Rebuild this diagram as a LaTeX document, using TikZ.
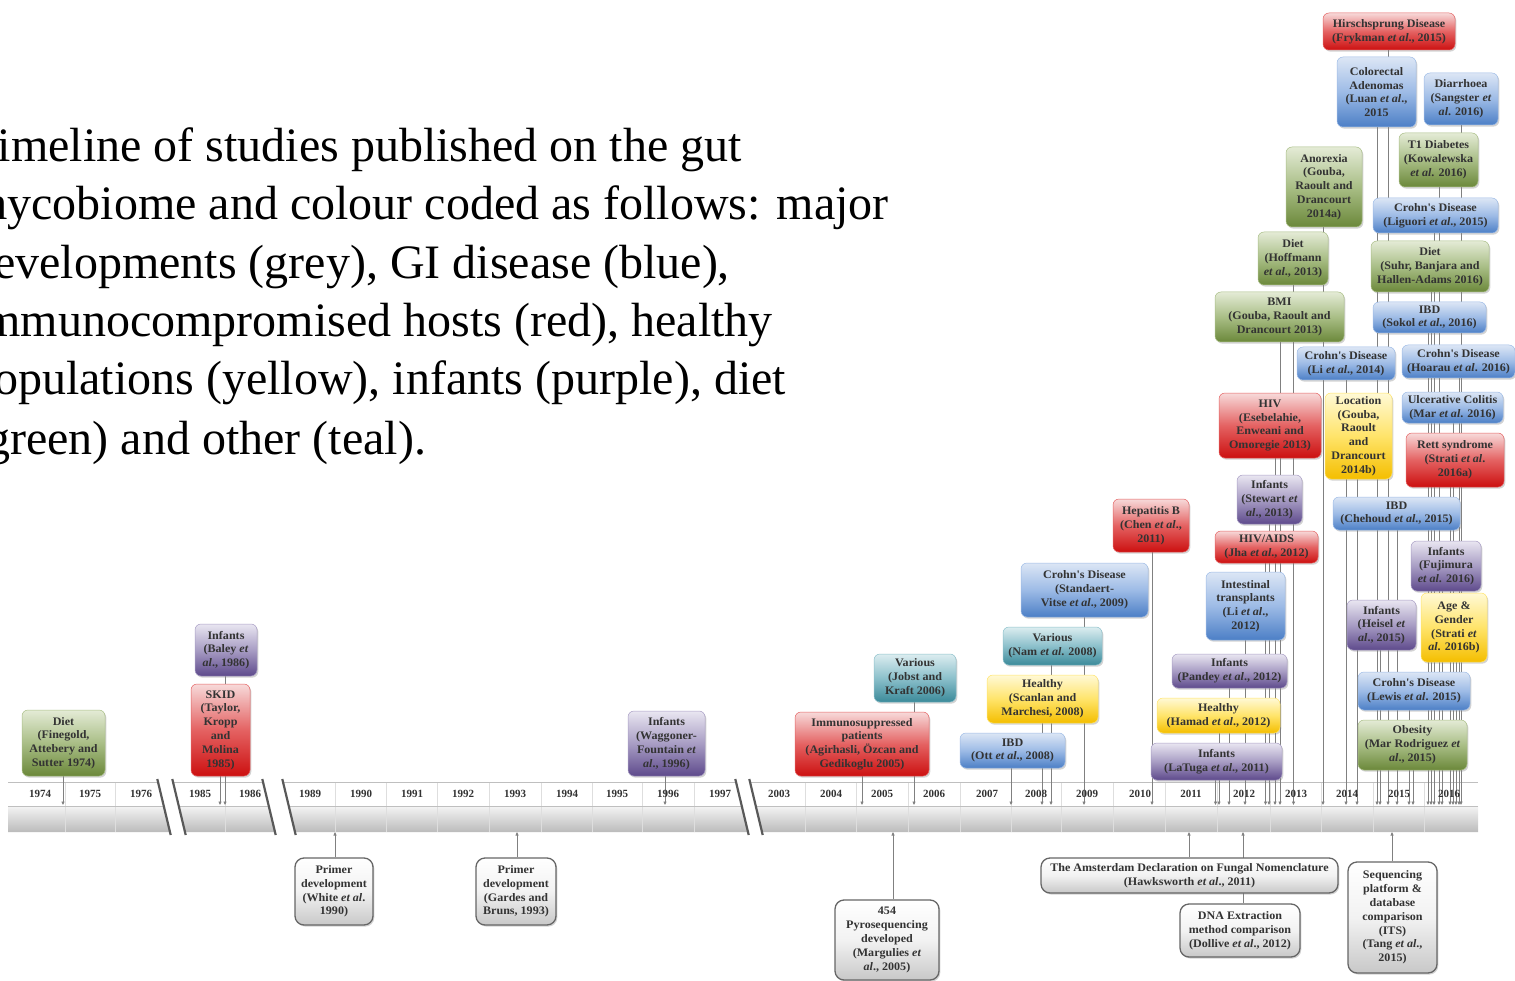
\documentclass[tikz,border=0pt]{standalone}
\usepackage{fontspec}
\usetikzlibrary{arrows.meta,shadows}
\newfontfamily\boxfont[FakeStretch=1.05]{Liberation Serif}
\newfontfamily\titlefont{Liberation Serif}
\newfontfamily\yearfont{Liberation Serif}
\definecolor{txt}{HTML}{333333}
\definecolor{grnT}{HTML}{E4EBD6}\definecolor{grnM}{HTML}{A9BE86}\definecolor{grnD}{HTML}{6B883A}
\definecolor{redT}{HTML}{F7DADA}\definecolor{redM}{HTML}{E46262}\definecolor{redD}{HTML}{CC1010}
\definecolor{purT}{HTML}{E9E6F1}\definecolor{purM}{HTML}{A89DC4}\definecolor{purD}{HTML}{5E4A8C}
\definecolor{bluT}{HTML}{DCE6F5}\definecolor{bluM}{HTML}{9DBBE6}\definecolor{bluD}{HTML}{4C7FC6}
\definecolor{tealT}{HTML}{DCEDF0}\definecolor{tealM}{HTML}{8CC0CB}\definecolor{tealD}{HTML}{3B8A9A}
\definecolor{yelT}{HTML}{FFF9D6}\definecolor{yelM}{HTML}{FFE46A}\definecolor{yelD}{HTML}{F4BE00}
\definecolor{gryT}{HTML}{FFFFFF}\definecolor{gryM}{HTML}{F2F2F2}\definecolor{gryD}{HTML}{C8C8C8}
\definecolor{lineC}{HTML}{808080}
\definecolor{bandT}{HTML}{F4F4F4}\definecolor{bandD}{HTML}{BBBBBB}
\pgfdeclarelayer{axislayer}
\pgfdeclarelayer{linelayer}
\pgfsetlayers{axislayer,linelayer,main}
\tikzset{
  bx/.style={rounded corners=6pt, align=center, inner sep=1pt, text=txt,
    font=\boxfont\bfseries\fontsize{11.5}{13.8}\selectfont, line width=0.5pt,
    drop shadow={shadow xshift=1.3pt, shadow yshift=-1.6pt, opacity=0.35}},
  gbox/.style={bx, draw=grnM, top color=grnT, bottom color=grnD, middle color=grnM},
  rbox/.style={bx, draw=redM, top color=redT, bottom color=redD, middle color=redM},
  pbox/.style={bx, draw=purM, top color=purT, bottom color=purD, middle color=purM},
  bbox/.style={bx, draw=bluM, top color=bluT, bottom color=bluD, middle color=bluM},
  tbox/.style={bx, draw=tealM, top color=tealT, bottom color=tealD, middle color=tealM},
  ybox/.style={bx, draw=yelM, top color=yelT, bottom color=yelD, middle color=yelM},
  wbox/.style={bx, rounded corners=9pt, draw=black!60, line width=1.3pt, top color=gryT, bottom color=gryD, middle color=gryM},
  conn/.style={draw=lineC, line width=0.65pt, -{Triangle[length=3.5pt,width=3pt]}},
  yr/.style={font=\yearfont\bfseries\fontsize{11}{12}\selectfont, text=txt, inner sep=0pt},
  ttl/.style={font=\titlefont\fontsize{48}{58}\selectfont, anchor=base west, inner sep=0pt},
  sepl/.style={draw=black!13, line width=0.6pt},
  rowl/.style={draw=black!25, line width=0.6pt},
  slash/.style={draw=black!65, line width=2.2pt},
  band/.style={top color=bandT, bottom color=bandD}
}
\begin{document}
\begin{tikzpicture}[x=1pt,y=-1pt]
\useasboundingbox (0,0) rectangle (1515,981);

% ---------- title ----------
\node[ttl] (t1) at (-30,162) {Timeline of studies published on the gut};
\node[ttl] (t2) at (-30,220) {mycobiome and colour coded as follows: major};
\node[ttl] (t3) at (-30,279) {developments (grey), GI disease (blue),};
\node[ttl] (t4) at (-30,337) {immunocompromised hosts (red), healthy};
\node[ttl] (t5) at (-30,395) {populations (yellow), infants (purple), diet};
\node[ttl] (t6) at (-30,454) {(green) and other (teal).};

% ---------- axis ----------
\begin{pgfonlayer}{axislayer}
% segment 1
\fill[white] (8,782) -- (158,782) -- (163.76,806) -- (8,806) -- cycle;
\path[band] (8,806) -- (163.76,806) -- (170,832) -- (8,832) -- cycle;
\foreach \s in {65,115} \draw[sepl] (\s,782) -- (\s,832);
\draw[rowl] (8,782) -- (158,782) (8,806) -- (163.76,806);
\draw[slash] (157.3,779) -- (170.7,835);
% segment 2
\fill[white] (173,782) -- (263,782) -- (268.76,806) -- (178.76,806) -- cycle;
\path[band] (178.76,806) -- (268.76,806) -- (275,832) -- (185,832) -- cycle;
\draw[sepl] (225,782) -- (225,832);
\draw[rowl] (173,782) -- (263,782) (178.76,806) -- (268.76,806);
\draw[slash] (172.3,779) -- (185.7,835);
\draw[slash] (262.3,779) -- (275.7,835);
% segment 3
\fill[white] (283,782) -- (736,782) -- (741.76,806) -- (288.76,806) -- cycle;
\path[band] (288.76,806) -- (741.76,806) -- (748,832) -- (295,832) -- cycle;
\foreach \s in {335.5,386.5,437.5,489,541,592,642.5,694} \draw[sepl] (\s,782) -- (\s,832);
\draw[rowl] (283,782) -- (736,782) (288.76,806) -- (741.76,806);
\draw[slash] (282.3,779) -- (295.7,835);
\draw[slash] (735.3,779) -- (748.7,835);
% segment 4
\fill[white] (750,782) -- (1478,782) -- (1478,806) -- (755.76,806) -- cycle;
\path[band] (755.76,806) -- (1478,806) -- (1478,832) -- (762,832) -- cycle;
\foreach \s in {805,856.5,908,960.5,1011.5,1061.5,1113.5,1165.5,1217.5,1270,1321.5,1373,1424} \draw[sepl] (\s,782) -- (\s,832);
\draw[rowl] (750,782) -- (1478,782) (755.76,806) -- (1478,806);
\draw[slash] (749.3,779) -- (762.7,835);
\end{pgfonlayer}

% year labels
\node[yr] (y1974) at (40,794) {1974};
\node[yr] (y1975) at (90,794) {1975};
\node[yr] (y1976) at (141,794) {1976};
\node[yr] (y1985) at (200,794) {1985};
\node[yr] (y1986) at (250,794) {1986};
\node[yr] (y1989) at (310,794) {1989};
\node[yr] (y1990) at (361,794) {1990};
\node[yr] (y1991) at (412,794) {1991};
\node[yr] (y1992) at (463,794) {1992};
\node[yr] (y1993) at (515,794) {1993};
\node[yr] (y1994) at (567,794) {1994};
\node[yr] (y1995) at (617,794) {1995};
\node[yr] (y1996) at (668,794) {1996};
\node[yr] (y1997) at (720,794) {1997};
\node[yr] (y2003) at (779,794) {2003};
\node[yr] (y2004) at (831,794) {2004};
\node[yr] (y2005) at (882,794) {2005};
\node[yr] (y2006) at (934,794) {2006};
\node[yr] (y2007) at (987,794) {2007};
\node[yr] (y2008) at (1036,794) {2008};
\node[yr] (y2009) at (1087,794) {2009};
\node[yr] (y2010) at (1140,794) {2010};
\node[yr] (y2011) at (1191,794) {2011};
\node[yr] (y2012) at (1244,794) {2012};
\node[yr] (y2013) at (1296,794) {2013};
\node[yr] (y2014) at (1347,794) {2014};
\node[yr] (y2015) at (1399,794) {2015};
\node[yr] (y2016) at (1449,794) {2016};

% ---------- upper boxes ----------
\node[gbox, minimum width=83pt, minimum height=66pt] (diet74) at (63.5,743) {Diet\\(Finegold,\\Attebery and\\Sutter 1974)};
\node[pbox, minimum width=62pt, minimum height=52pt] (baley) at (226,650) {Infants\\(Baley \emph{et}\\\emph{al}., 1986)};
\node[rbox, minimum width=59pt, minimum height=92pt] (skid) at (220.5,730) {SKID\\(Taylor,\\Kropp\\and\\Molina\\1985)};
\node[pbox, minimum width=77pt, minimum height=65pt] (waggoner) at (666.5,743.5) {Infants\\(Waggoner-\\Fountain \emph{et}\\\emph{al}., 1996)};
\node[rbox, minimum width=134pt, minimum height=64pt] (immuno) at (862,744) {Immunosuppressed\\patients\\(Agirhasli, Özcan and\\Gedikoglu 2005)};
\node[tbox, minimum width=82pt, minimum height=48pt] (jobst) at (915,678) {Various\\(Jobst and\\Kraft 2006)};
\node[bbox, minimum width=105pt, minimum height=35pt] (ott) at (1012.5,750.5) {IBD\\(Ott \emph{et al}., 2008)};
\node[ybox, minimum width=111pt, minimum height=48pt] (scanlan) at (1042.5,699) {Healthy\\(Scanlan and\\Marchesi, 2008)};
\node[tbox, minimum width=99pt, minimum height=38pt] (nam) at (1052.5,646) {Various\\(Nam \emph{et al}. 2008)};
\node[bbox, minimum width=127pt, minimum height=54pt] (standaert) at (1084.5,590) {Crohn's Disease\\(Standaert-\\Vitse \emph{et al}., 2009)};
\node[rbox, minimum width=76pt, minimum height=53pt] (hepb) at (1151,525.5) {Hepatitis B\\(Chen \emph{et al}.,\\2011)};
\node[pbox, minimum width=131pt, minimum height=37pt] (latuga) at (1216.5,761.5) {Infants\\(LaTuga \emph{et al}., 2011)};
\node[ybox, minimum width=123pt, minimum height=35pt] (hamad) at (1218.5,715.5) {Healthy\\(Hamad \emph{et al}., 2012)};
\node[pbox, minimum width=115pt, minimum height=34pt] (pandey) at (1229.5,671) {Infants\\(Pandey \emph{et al}., 2012)};
\node[bbox, minimum width=79pt, minimum height=68pt] (intest) at (1245.5,606) {Intestinal\\transplants\\(Li \emph{et al}.,\\2012)};
\node[rbox, minimum width=103pt, minimum height=32pt] (hivaids) at (1266.5,547) {HIV/AIDS\\(Jha \emph{et al}., 2012)};
\node[pbox, minimum width=65pt, minimum height=49pt] (stewart) at (1269.5,499.5) {Infants\\(Stewart \emph{et}\\\emph{al}., 2013)};
\node[rbox, minimum width=102pt, minimum height=65pt] (hiv) at (1270,425.5) {HIV\\(Esebelahie,\\Enweani and\\Omoregie 2013)};
\node[gbox, minimum width=129pt, minimum height=50pt] (bmi) at (1279.5,317) {BMI\\(Gouba, Raoult and\\Drancourt 2013)};
\node[gbox, minimum width=70pt, minimum height=53pt] (hoffmann) at (1293,258.5) {Diet\\(Hoffmann\\\emph{et al}., 2013)};
\node[gbox, minimum width=76pt, minimum height=80pt] (anorexia) at (1324,187) {Anorexia\\(Gouba,\\Raoult and\\Drancourt\\2014a)};
\node[rbox, minimum width=132pt, minimum height=37pt] (hirsch) at (1389,31.5) {Hirschsprung Disease\\(Frykman \emph{et al}., 2015)};
\node[bbox, minimum width=79pt, minimum height=70pt] (colorectal) at (1376.5,92) {Colorectal\\Adenomas\\(Luan \emph{et al}.,\\2015};
\node[bbox, minimum width=74pt, minimum height=52pt] (diarrhoea) at (1461,99) {Diarrhoea\\(Sangster \emph{et}\\\emph{al}. 2016)};
\node[gbox, minimum width=79pt, minimum height=54pt] (tdiab) at (1438.5,160) {T1 Diabetes\\(Kowalewska\\\emph{et al}. 2016)};
\node[bbox, minimum width=125pt, minimum height=35pt] (liguori) at (1435.5,215.5) {Crohn's Disease\\(Liguori \emph{et al}., 2015)};
\node[gbox, minimum width=118pt, minimum height=51pt] (suhr) at (1430,266.5) {Diet\\(Suhr, Banjara and\\Hallen-Adams 2016)};
\node[bbox, minimum width=113pt, minimum height=31pt] (sokol) at (1429.5,317.5) {IBD\\(Sokol \emph{et al}., 2016)};
\node[bbox, minimum width=98pt, minimum height=33pt] (lifour) at (1346,363.5) {Crohn's Disease\\(Li \emph{et al}., 2014)};
\node[bbox, minimum width=113pt, minimum height=33pt] (hoarau) at (1458.5,361.5) {Crohn's Disease\\(Hoarau \emph{et al}. 2016)};
\node[bbox, minimum width=101pt, minimum height=31pt] (maruc) at (1452.5,407.5) {Ulcerative Colitis\\(Mar \emph{et al}. 2016)};
\node[ybox, minimum width=67pt, minimum height=86pt] (location) at (1358.5,436) {Location\\(Gouba,\\Raoult\\and\\Drancourt\\2014b)};
\node[rbox, minimum width=98pt, minimum height=54pt] (rett) at (1455,460) {Rett syndrome\\(Strati \emph{et al}.\\2016a)};
\node[bbox, minimum width=127pt, minimum height=33pt] (chehoud) at (1396.5,513.5) {IBD\\(Chehoud \emph{et al}., 2015)};
\node[pbox, minimum width=70pt, minimum height=50pt] (fujimura) at (1446,566) {Infants\\(Fujimura\\\emph{et al}. 2016)};
\node[ybox, minimum width=66pt, minimum height=69pt] (stratib) at (1454,627.5) {Age \&\\Gender\\(Strati \emph{et}\\\emph{al}. 2016b)};
\node[pbox, minimum width=69pt, minimum height=50pt] (heisel) at (1381.5,625) {Infants\\(Heisel \emph{et}\\\emph{al}., 2015)};
\node[bbox, minimum width=112pt, minimum height=38pt] (lewis) at (1414,691) {Crohn's Disease\\(Lewis \emph{et al}. 2015)};
\node[gbox, minimum width=109pt, minimum height=50pt] (obesity) at (1412.5,745) {Obesity\\(Mar Rodriguez \emph{et}\\\emph{al}., 2015)};

% ---------- lower (grey) boxes ----------
\node[wbox, minimum width=78pt, minimum height=67pt] (white) at (334,891.5) {Primer\\development\\(White \emph{et al}.\\1990)};
\node[wbox, minimum width=80pt, minimum height=67pt] (gardes) at (516,891.5) {Primer\\development\\(Gardes and\\Bruns, 1993)};
\node[wbox, minimum width=104pt, minimum height=80pt] (margulies) at (887,940) {454\\Pyrosequencing\\developed\\(Margulies \emph{et}\\\emph{al}., 2005)};
\node[wbox, minimum width=297pt, minimum height=35pt] (amsterdam) at (1189.5,875.5) {The Amsterdam Declaration on Fungal Nomenclature\\(Hawksworth \emph{et al}., 2011)};
\node[wbox, minimum width=120pt, minimum height=53pt] (dollive) at (1240,930.5) {DNA Extraction\\method comparison\\(Dollive \emph{et al}., 2012)};
\node[wbox, minimum width=89pt, minimum height=111pt] (tang) at (1392.5,917.5) {Sequencing\\platform \&\\database\\comparison\\(ITS)\\(Tang \emph{et al}.,\\2015)};

% ---------- connectors ----------
\begin{pgfonlayer}{linelayer}
\foreach \n/\x in {diet74/63, baley/225, skid/220, waggoner/665, immuno/862, jobst/914,
  ott/1011, scanlan/1042, nam/1051, standaert/1084, hepb/1152, latuga/1215.5,
  hamad/1219, pandey/1229, intest/1245, hivaids/1265.5, stewart/1269, hiv/1275,
  bmi/1280, hoffmann/1293.5, anorexia/1323, lifour/1346, location/1357,
  colorectal/1377, heisel/1380, hirsch/1388, chehoud/1397, lewis/1409, obesity/1413,
  sokol/1428, suhr/1431, liguori/1434, tdiab/1439, fujimura/1442, rett/1450,
  maruc/1453, stratib/1456, hoarau/1459, diarrhoea/1461}{
  \coordinate (a-\n) at (\x,805);
  \draw[conn] (\n.south -| a-\n) -- (a-\n);
}
\foreach \n/\x in {white/335, gardes/517, margulies/893, amsterdam/1189, dollive/1243, tang/1392}{
  \coordinate (u-\n) at (\x,832);
  \draw[conn] (\n.north -| u-\n) -- (u-\n);
}
\end{pgfonlayer}
\end{tikzpicture}
\end{document}
